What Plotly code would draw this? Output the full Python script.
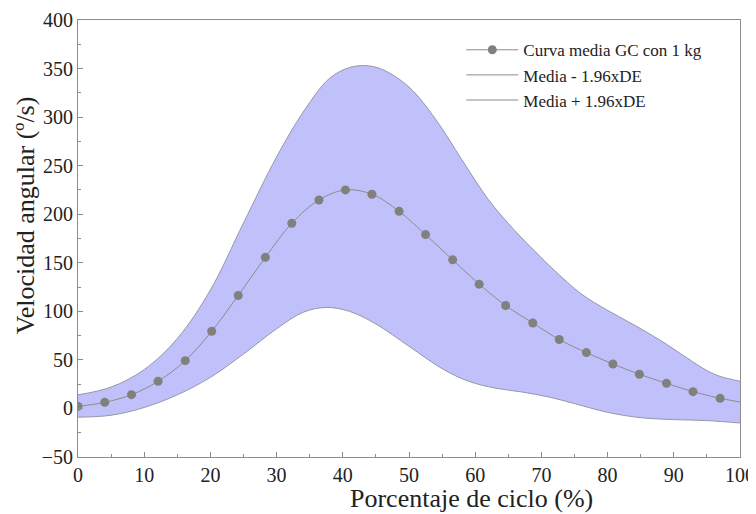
import plotly.graph_objects as go

# Mean curve markers (% of cycle, deg/s)
mean_x = [0, 4.04, 8.08, 12.1, 16.2, 20.2, 24.2, 28.3, 32.3, 36.4, 40.4, 44.4, 48.5,
          52.5, 56.6, 60.6, 64.6, 68.7, 72.7, 76.8, 80.8, 84.8, 88.9, 92.9, 97.0]
mean_y = [2.1, 6.3, 14.2, 28, 49.2, 79.5, 116.3, 155.6, 190.7, 214.7, 225, 220.6, 203,
          179, 153, 128, 106, 88, 71, 57.5, 45.8, 35.2, 25.9, 17.3, 10.4]
mean_end_x = [97.0, 100]
mean_end_y = [10.4, 6.6]

# Upper limit (Media + 1.96xDE)
upper_x = [0, 5, 10, 15, 20, 25, 30, 34, 38, 41, 43.5, 46, 50, 54, 58, 62, 66, 69, 72,
           76, 80, 84, 88, 92, 95, 97, 100]
upper_y = [14, 22, 40, 72, 122, 191, 259, 305, 340, 351, 353, 349, 331, 298, 256, 215,
           183, 162, 142, 118, 101, 86, 70, 52, 39, 33, 28]

# Lower limit (Media - 1.96xDE)
lower_x = [0, 5, 10, 15, 20, 25, 30, 34, 37.5, 41, 45, 50, 55, 59, 63, 67, 71, 75, 80,
           85, 90, 95, 100]
lower_y = [-9, -7, 1, 14, 32, 56, 82, 99, 104, 100, 87, 64, 41, 28, 21, 17, 12, 5, -4,
           -9.5, -11.5, -12.5, -15]

legend_names = ["Curva media GC con 1 kg", "Media - 1.96xDE", "Media + 1.96xDE"]
x_title = "Porcentaje de ciclo (%)"
y_title = "Velocidad angular (º/s)"

FILL = "rgb(192,193,250)"
EDGE = "rgb(150,150,168)"
MARK = "rgb(128,128,124)"
MLINE = "rgb(140,140,140)"
AX = "rgb(140,140,140)"
FONT = "Liberation Serif"

fig = go.Figure()

# band (no legend)
fig.add_trace(go.Scatter(
    x=lower_x, y=lower_y, mode="lines", showlegend=False,
    line=dict(color=EDGE, width=1, shape="spline", smoothing=1.0),
))
fig.add_trace(go.Scatter(
    x=upper_x, y=upper_y, mode="lines", showlegend=False,
    line=dict(color=EDGE, width=1, shape="spline", smoothing=1.0),
    fill="tonexty", fillcolor=FILL,
))
fig.add_trace(go.Scatter(
    x=mean_end_x, y=mean_end_y, mode="lines", showlegend=False,
    line=dict(color=MLINE, width=1, shape="spline"),
))
fig.add_trace(go.Scatter(
    x=mean_x, y=mean_y, mode="lines+markers", name=legend_names[0],
    line=dict(color=MLINE, width=1, shape="spline", smoothing=1.0),
    marker=dict(color=MARK, size=9),
))
# legend-only entries for band limits
fig.add_trace(go.Scatter(
    x=[None], y=[None], mode="lines", name=legend_names[1],
    line=dict(color=MLINE, width=1),
))
fig.add_trace(go.Scatter(
    x=[None], y=[None], mode="lines", name=legend_names[2],
    line=dict(color=MLINE, width=1),
))

axis_common = dict(
    showline=True, linecolor=AX, linewidth=1, mirror=True,
    ticks="inside", ticklen=5, tickcolor=AX,
    showgrid=False, zeroline=False, automargin=False,
    tickfont=dict(family=FONT, size=20, color="#222"),
)

# page body has an 8px margin, so the figure is sized to fit the window
fig.update_layout(
    width=748, height=506,
    margin=dict(l=70, r=16, t=12, b=57),
    paper_bgcolor="white", plot_bgcolor="white",
    font=dict(family=FONT, color="#222"),
    showlegend=True,
    legend=dict(
        x=0.579, y=0.972, xanchor="left", yanchor="top",
        bgcolor="rgba(0,0,0,0)", borderwidth=0, traceorder="normal",
        font=dict(family=FONT, size=17, color="#222"),
        tracegroupgap=0, itemwidth=52,
    ),
    annotations=[
        dict(text=x_title, xref="paper", yref="paper", x=0.594, y=-0.094,
             xanchor="center", yanchor="middle", showarrow=False,
             font=dict(family=FONT, size=26, color="#222")),
        dict(text=y_title, xref="paper", yref="paper", x=-0.078, y=0.554,
             xanchor="center", yanchor="middle", showarrow=False, textangle=-90,
             font=dict(family=FONT, size=26, color="#222")),
    ],
)
fig.update_xaxes(
    range=[0, 100], tick0=0, dtick=10,
    minor=dict(ticks="inside", ticklen=3, dtick=5, tickcolor=AX),
    **axis_common,
)
fig.update_yaxes(
    range=[-50, 400], tick0=0, dtick=50,
    minor=dict(ticks="inside", ticklen=3, dtick=25, tickcolor=AX),
    **axis_common,
)

fig.write_html("out.html")
